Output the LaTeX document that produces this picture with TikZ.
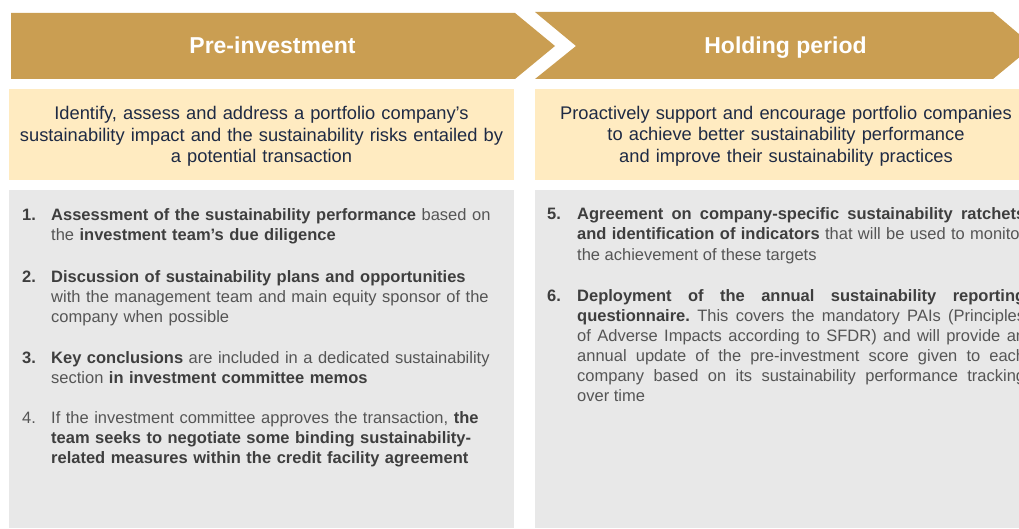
\documentclass[tikz,border=0pt]{standalone}
\usepackage{fontspec}
\setmainfont{Liberation Sans}
\frenchspacing
\definecolor{gold}{RGB}{202,158,82}
\definecolor{paleyellow}{RGB}{255,235,193}
\definecolor{panelgrey}{RGB}{232,232,232}
\definecolor{navy}{RGB}{30,42,68}
\definecolor{boldgrey}{RGB}{62,62,62}
\definecolor{reggrey}{RGB}{85,85,85}
\tikzset{
  banner/.style={fill=gold},
  yellowbox/.style={fill=paleyellow},
  greybox/.style={fill=panelgrey},
  bannertitle/.style={text=white, font=\fontsize{23}{27}\selectfont\bfseries, anchor=base, inner sep=0pt},
  intro/.style={text=navy, font=\fontsize{18.3}{21.5}\selectfont\frenchspacing, text width=520pt, align=center, anchor=base, inner sep=0pt},
  numlabel/.style={text=boldgrey, font=\fontsize{16.5}{20}\selectfont\bfseries, anchor=base west, inner sep=0pt},
  listitem/.style={text=reggrey, font=\fontsize{16.5}{20}\selectfont\frenchspacing, anchor=base west, inner sep=0pt, text width=460pt, align=left},
  jlistitem/.style={text=reggrey, font=\fontsize{16.5}{20}\selectfont\frenchspacing, anchor=base west, inner sep=0pt, text width=448pt, align=justify},
}
\newcommand{\bd}[1]{\textcolor{boldgrey}{\bfseries #1}}
\begin{document}
\begin{tikzpicture}[x=1pt,y=-1pt]
\useasboundingbox (0,0) rectangle (1019,529);
\clip (0,0) rectangle (1019,529);
% banners
\fill[banner] (11,13) -- (515,13) -- (555,46) -- (515,79) -- (11,79) -- cycle;
\fill[banner] (535,12) -- (993,12) -- (1033,46) -- (993,79) -- (535,79) -- (576,46) -- cycle;
\node[bannertitle] (t1) at (272.5,54) {Pre-investment};
\node[bannertitle] (t2) at (785.5,54) {Holding period};
% yellow boxes
\fill[yellowbox] (9,89) rectangle (514,180);
\fill[yellowbox] (535,89) rectangle (1030,180);
\node[intro] (i1) at (261.5,120) {Identify, assess and address a portfolio company’s\\sustainability impact and the sustainability risks entailed by\\a potential transaction};
\node[intro] (i2) at (786,119.5) {Proactively support and encourage portfolio companies\\to achieve better sustainability performance\\and improve their sustainability practices};
% grey panels
\fill[greybox] (9,190) rectangle (514,528);
\fill[greybox] (535,190) rectangle (1030,528);
% left list
\node[numlabel] (n1) at (22,221) {1.};
\node[listitem] (l1) at (51,221) {\bd{Assessment of the sustainability performance} based on\\the \bd{investment team’s due diligence}};
\node[numlabel] (n2) at (22,282) {2.};
\node[listitem] (l2) at (51,282) {\bd{Discussion of sustainability plans and opportunities}\\with the management team and main equity sponsor of the\\company when possible};
\node[numlabel] (n3) at (22,363) {3.};
\node[listitem] (l3) at (51,363) {\bd{Key conclusions} are included in a dedicated sustainability\\section \bd{in investment committee memos}};
\node[numlabel, text=reggrey, font=\fontsize{16.5}{20}\selectfont] (n4) at (22,423) {4.};
\node[listitem] (l4) at (51,423) {If the investment committee approves the transaction, \bd{the}\\\bd{team seeks to negotiate some binding sustainability-}\\\bd{related measures within the credit facility agreement}};
% right list
\node[numlabel] (n5) at (547,220) {5.};
\node[jlistitem] (l5) at (577,220) {\bd{Agreement on company-specific sustainability ratchets}\linebreak \bd{and identification of indicators} that will be used to monitor\linebreak the achievement of these targets};
\node[numlabel] (n6) at (547,301) {6.};
\node[jlistitem] (l6) at (577,301) {\bd{Deployment of the annual sustainability reporting}\linebreak \bd{questionnaire.} This covers the mandatory PAIs (Principles\linebreak of Adverse Impacts according to SFDR) and will provide an\linebreak annual update of the pre-investment score given to each\linebreak company based on its sustainability performance tracking\linebreak over time};
\end{tikzpicture}
\end{document}
